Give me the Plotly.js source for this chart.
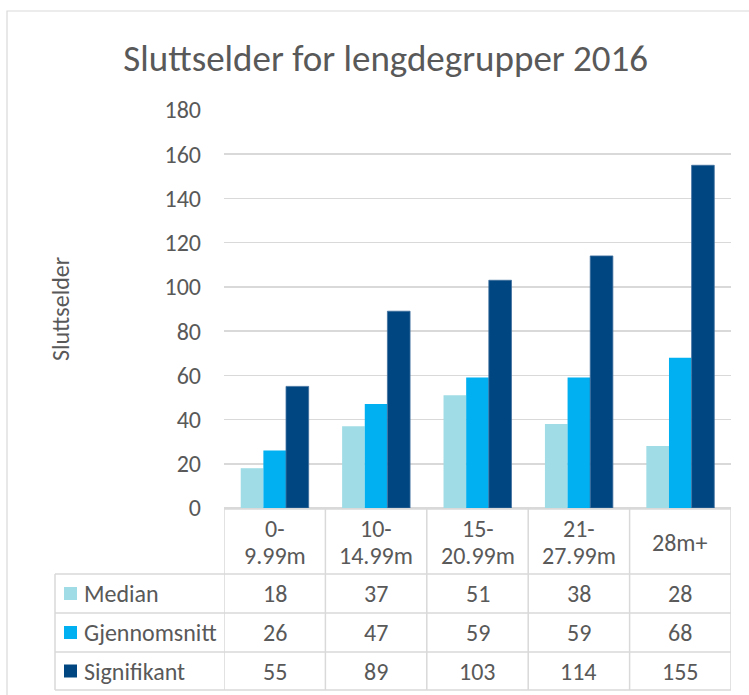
<!DOCTYPE html>
<html>
<head>
<meta charset="utf-8">
<script src="https://cdn.plot.ly/plotly-3.0.1.min.js"></script>
<style>html,body{margin:0;padding:0;background:#fff;}#chart{width:749px;height:695px;}</style>
</head>
<body>
<div id="chart"></div>
<script>
// ---- data ----
const categories = ["0-<br>9.99m", "10-<br>14.99m", "15-<br>20.99m", "21-<br>27.99m", "28m+"];
const seriesNames = ["Median", "Gjennomsnitt", "Signifikant"];
const median = [18, 37, 51, 38, 28];
const gjennomsnitt = [26, 47, 59, 59, 68];
const signifikant = [55, 89, 103, 114, 155];
const yTicks = [0, 20, 40, 60, 80, 100, 120, 140, 160, 180];

// ---- style ----
const colors = ["#A0DCE6", "#00B0F0", "#004680"];
const FONT = "Carlito, Calibri, Lato, sans-serif";
const FS = 24;
const TXT = "#595959";
const LINE = "#D9D9D9";
const W = 749, H = 695;
const L = 224, R = 18, T = 110, B = 187;
const plotW = W - L - R, plotH = H - T - B;
const px2x = px => (px - L) / plotW;          // paper x
const py2y = py => (H - B - py) / plotH;       // paper y

const values = [median, gjennomsnitt, signifikant];
const traces = seriesNames.map((n, i) => ({
  type: "bar", name: n, x: categories, y: values[i],
  marker: {color: colors[i], line: {width: i === 2 ? 0.8 : 0, color: "#3F6E9E"}},
  hoverinfo: "y"
}));

// ---- data table ----
const shapes = [];
const annotations = [];
const hdrTop = H - B, hdrBot = 574, rowLines = [574, 613, 652, 690];
const tableLeftPx = 55;
// frame of the chart
shapes.push({type: "rect", xref: "paper", yref: "paper", x0: px2x(7), x1: px2x(760), y0: py2y(700), y1: py2y(11),
  line: {color: LINE, width: 1.2}, fillcolor: "rgba(0,0,0,0)", layer: "below"});
// vertical lines at category boundaries
for (let k = 0; k <= categories.length; k++) {
  shapes.push({type: "line", xref: "x", yref: "paper", x0: k - 0.5, x1: k - 0.5,
    y0: py2y(hdrTop), y1: py2y(rowLines[rowLines.length - 1]), line: {color: LINE, width: 1.5}});
}
// horizontal lines
shapes.push({type: "line", xref: "x", yref: "paper", x0: -0.5, x1: categories.length - 0.5,
  y0: py2y(hdrTop + 1), y1: py2y(hdrTop + 1), line: {color: LINE, width: 1.5}});
rowLines.forEach(py => shapes.push({type: "line", xref: "paper", yref: "paper", x0: px2x(tableLeftPx), x1: 1,
  y0: py2y(py), y1: py2y(py), line: {color: LINE, width: 1.5}}));
shapes.push({type: "line", xref: "paper", yref: "paper", x0: px2x(tableLeftPx), x1: px2x(tableLeftPx),
  y0: py2y(rowLines[0]), y1: py2y(rowLines[rowLines.length - 1]), line: {color: LINE, width: 1.5}});

// header labels (each line placed separately for tighter spacing)
categories.forEach((c, j) => {
  const lines = c.split("<br>");
  const mid = (hdrTop + hdrBot) / 2 + 1, gap = 27;
  lines.forEach((ln, k) => annotations.push({xref: "x", yref: "paper", x: j,
    y: py2y(mid + (k - (lines.length - 1) / 2) * gap),
    text: ln, showarrow: false, font: {family: FONT, size: FS, color: TXT}, yanchor: "middle"}));
});
// rows
seriesNames.forEach((n, i) => {
  const yc = (rowLines[i] + rowLines[i + 1]) / 2;
  shapes.push({type: "rect", xref: "paper", yref: "paper", x0: px2x(64), x1: px2x(77),
    y0: py2y(yc - 6.5), y1: py2y(yc + 6.5), fillcolor: colors[i], line: {width: 0}});
  annotations.push({xref: "paper", yref: "paper", x: px2x(82), y: py2y(yc), xanchor: "left", yanchor: "middle",
    text: n, showarrow: false, font: {family: FONT, size: FS, color: TXT}});
  values[i].forEach((v, j) => annotations.push({xref: "x", yref: "paper", x: j, y: py2y(yc), yanchor: "middle",
    text: String(v), showarrow: false, font: {family: FONT, size: FS, color: TXT}}));
});

const layout = {
  width: W, height: H,
  margin: {l: L, r: R, t: T, b: B, pad: 0},
  paper_bgcolor: "#fff", plot_bgcolor: "#fff",
  title: {text: "Sluttselder for lengdegrupper 2016", x: 0.515, xanchor: "center", y: 1 - 58 / H, yanchor: "middle",
    font: {family: FONT, size: 37, color: TXT}},
  showlegend: false,
  barmode: "group", bargap: 0.33, bargroupgap: 0,
  xaxis: {type: "category", range: [-0.5, categories.length - 0.5], showticklabels: false, ticks: "",
    showgrid: false, zeroline: false, showline: false, fixedrange: true},
  yaxis: {range: [0, 180], tickvals: yTicks, ticktext: yTicks.map(String), showgrid: true, gridcolor: LINE, gridwidth: 1.5,
    zeroline: true, zerolinecolor: LINE, zerolinewidth: 1.5, showline: false, ticks: "", ticklabelstandoff: 22,
    tickfont: {family: FONT, size: FS, color: TXT},
    title: {text: "Sluttselder", standoff: 88, font: {family: FONT, size: FS, color: TXT}}, fixedrange: true},
  shapes: shapes,
  annotations: annotations
};

Plotly.newPlot("chart", traces, layout, {displayModeBar: false, staticPlot: true});
</script>
</body>
</html>
